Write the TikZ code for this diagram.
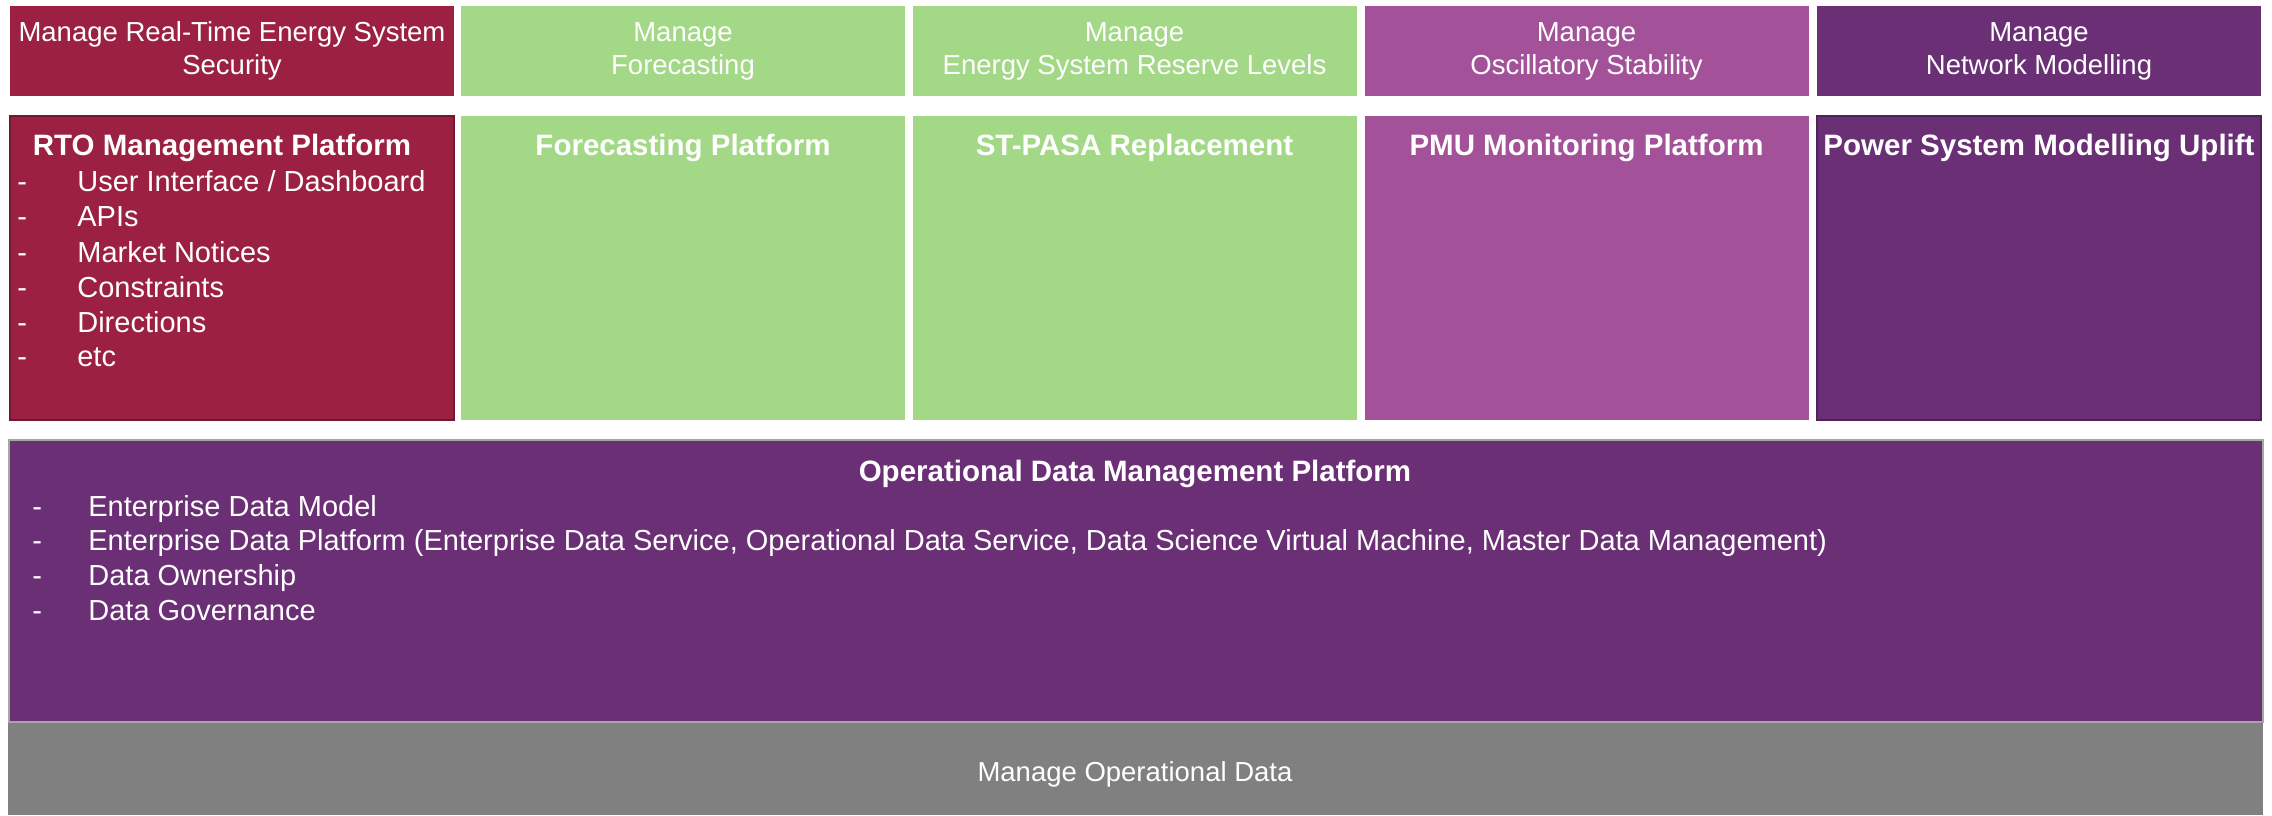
\documentclass[tikz,border=0pt]{standalone}
\usepackage{fontspec}
\setmainfont{Liberation Sans}
\usepackage{xcolor}
\definecolor{ColA}{RGB}{155,32,65}
\definecolor{ColB}{RGB}{162,216,134}
\definecolor{ColC}{RGB}{163,82,154}
\definecolor{ColD}{RGB}{107,47,117}
\definecolor{ColE}{RGB}{128,128,128}
\tikzstyle{TopBox}=[rectangle,inner sep=0pt,minimum width=222pt,minimum height=45pt,
text=white,align=center,font=\fontsize{13.75}{16.5}\selectfont]
\tikzstyle{PlatBox}=[rectangle,inner sep=0pt,minimum width=222pt,minimum height=152pt]
\tikzstyle{PlatTitle}=[text=white,inner sep=0pt,anchor=base,font=\fontsize{14.75}{17.5}\selectfont\bfseries]
\tikzstyle{ItemText}=[text=white,inner sep=0pt,anchor=base west,font=\fontsize{14.5}{17.5}\selectfont]

\begin{document}
\begin{tikzpicture}[x=0.5pt,y=-0.5pt]
        \useasboundingbox(0,0)rectangle(2272,815);
        % capabilities
        \node[TopBox,fill=ColA](mA)at(232,51){Manage Real-Time Energy System\\Security};
        \node[TopBox,fill=ColB](mB)at(683,51){Manage\\Forecasting};
        \node[TopBox,fill=ColB](mC)at(1134.5,51){Manage\\Energy System Reserve Levels};
        \node[TopBox,fill=ColC](mD)at(1586.5,51){Manage\\Oscillatory Stability};
        \node[TopBox,fill=ColD](mE)at(2039,51){Manage\\Network Modelling};
        % platforms
        \node[PlatBox,fill=ColA,draw=ColA!75!black,line width=1pt](pA)at(232,268){};
        \node[PlatBox,fill=ColB](pB)at(683,268){};
        \node[PlatBox,fill=ColB](pC)at(1134.5,268){};
        \node[PlatBox,fill=ColC](pD)at(1586.5,268){};
        \node[PlatBox,fill=ColD,draw=ColD!75!black,line width=1pt](pE)at(2039,268){};
        \node[PlatTitle](hA)at(222,155){RTO Management Platform};
        \node[PlatTitle](hB)at(683,155){Forecasting Platform};
        \node[PlatTitle](hC)at(1134.5,155){ST-PASA Replacement};
        \node[PlatTitle](hD)at(1586.5,155){PMU Monitoring Platform};
        \node[PlatTitle](hE)at(2039,155){Power System Modelling Uplift};
        \node[ItemText](iA)at(17,191){\makebox[30pt][l]{-}User Interface / Dashboard};
        \node[ItemText](iB)at(17,226){\makebox[30pt][l]{-}APIs};
        \node[ItemText](iC)at(17,262){\makebox[30pt][l]{-}Market Notices};
        \node[ItemText](iD)at(17,297){\makebox[30pt][l]{-}Constraints};
        \node[ItemText](iE)at(17,332){\makebox[30pt][l]{-}Directions};
        \node[ItemText](iF)at(17,366){\makebox[30pt][l]{-}etc};
        % data layer
        \node[rectangle,inner sep=0pt,fill=ColE,minimum width=1127.5pt,minimum height=46.5pt](md)at(1135.5,768.5){};
        \node[text=white,inner sep=0pt,font=\fontsize{13.75}{16.5}\selectfont](mdt)at(1135,774){Manage Operational Data};
        \node[rectangle,inner sep=0pt,fill=ColD,draw=gray!70,line width=1pt,
        minimum width=1127pt,minimum height=141pt](pd)at(1136,581){};
        \node[PlatTitle](hd)at(1135,481){Operational Data Management Platform};
        \node[ItemText](da)at(32,516){\makebox[28pt][l]{-}Enterprise Data Model};
        \node[ItemText](db)at(32,550){\makebox[28pt][l]{-}Enterprise Data Platform (Enterprise Data Service, Operational Data Service, Data Science Virtual Machine, Master Data Management)};
        \node[ItemText](dc)at(32,585){\makebox[28pt][l]{-}Data Ownership};
        \node[ItemText](dd)at(32,620){\makebox[28pt][l]{-}Data Governance};
    \end{tikzpicture}
\end{document}
